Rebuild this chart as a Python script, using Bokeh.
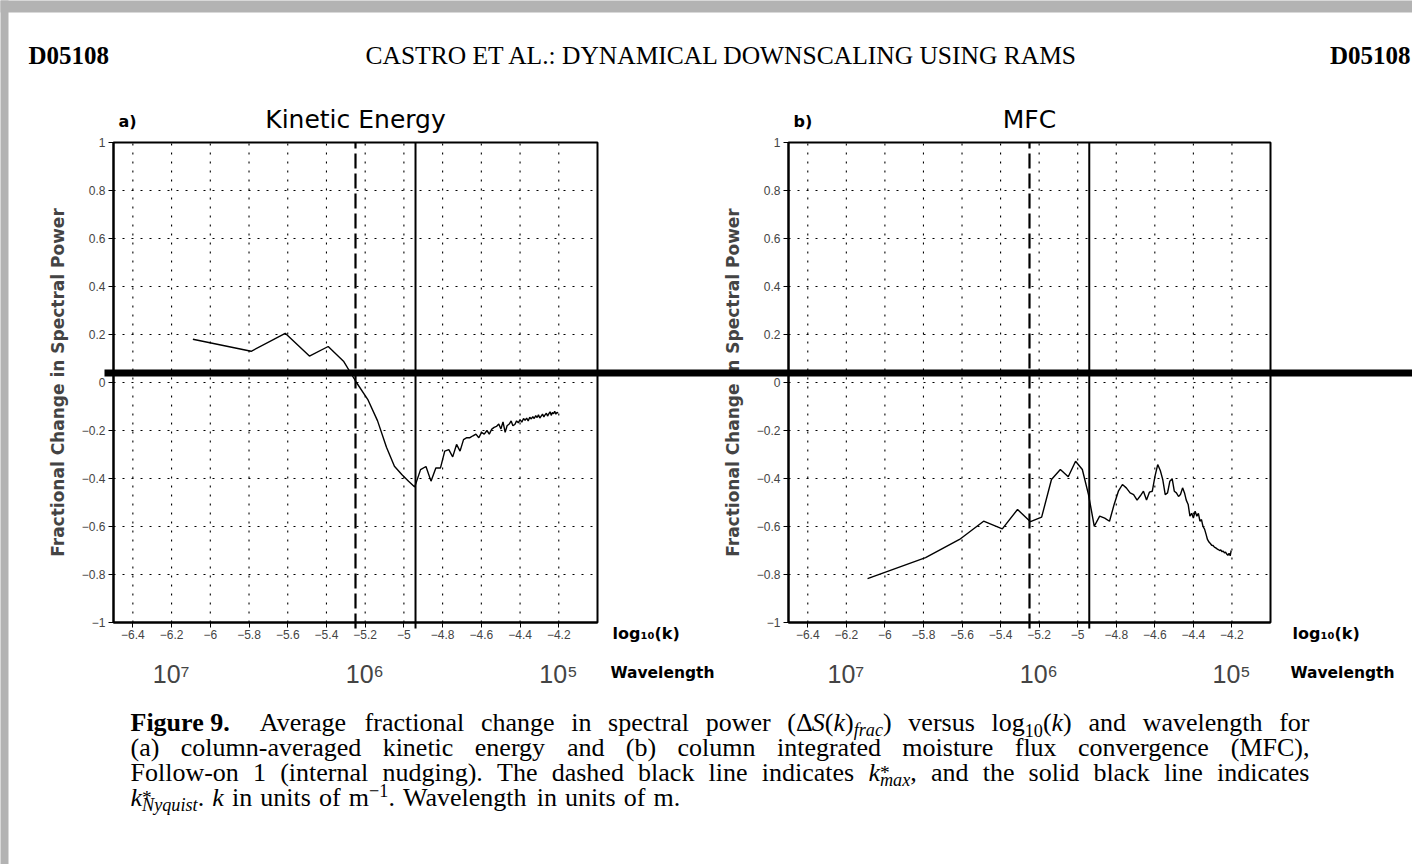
import numpy as np
from bokeh.plotting import figure
from bokeh.models import (Range1d, LinearAxis, FixedTicker, ColumnDataSource,
                          CustomJSTickFormatter)
from bokeh.embed import file_html
from bokeh.resources import INLINE
from bokeh.core.properties import value

# ---------------- data ----------------
log10_k = [-6.090, -5.789, -5.613, -5.488, -5.391, -5.312, -5.245, -5.187, -5.136, -5.090,
           -5.049, -5.011, -4.976, -4.944, -4.914, -4.886, -4.860, -4.835, -4.811, -4.789,
           -4.768, -4.748, -4.728, -4.710, -4.692, -4.675, -4.659, -4.643, -4.628, -4.613,
           -4.599, -4.585, -4.571, -4.559, -4.546, -4.534, -4.522, -4.510, -4.499, -4.488,
           -4.477, -4.467, -4.456, -4.446, -4.437, -4.427, -4.418, -4.409, -4.400, -4.391,
           -4.382, -4.374, -4.366, -4.358, -4.350, -4.342, -4.334, -4.327, -4.319, -4.312,
           -4.305, -4.298, -4.291, -4.284, -4.277, -4.271, -4.264, -4.258, -4.251, -4.245,
           -4.239, -4.233, -4.227, -4.221, -4.215, -4.209, -4.204]

ke_frac = [0.18, 0.13, 0.205, 0.11, 0.15, 0.089, 0.0, -0.07, -0.16, -0.27,
           -0.349, -0.383, -0.411, -0.435, -0.363, -0.35, -0.411, -0.356, -0.356, -0.286,
           -0.28, -0.31, -0.258, -0.286, -0.238, -0.23, -0.23, -0.222, -0.215, -0.23,
           -0.208, -0.215, -0.2, -0.215, -0.194, -0.187, -0.183, -0.173, -0.194, -0.164,
           -0.208, -0.18, -0.173, -0.16, -0.18, -0.175, -0.16, -0.168, -0.155, -0.165,
           -0.15, -0.158, -0.148, -0.16, -0.145, -0.152, -0.142, -0.15, -0.138, -0.146,
           -0.135, -0.148, -0.14, -0.132, -0.143, -0.135, -0.128, -0.14, -0.13, -0.122,
           -0.137, -0.125, -0.13, -0.12, -0.132, -0.124, -0.128]

mfc_frac = [-0.817, -0.73, -0.654, -0.578, -0.61, -0.529, -0.58, -0.561, -0.404, -0.3625,
            -0.393, -0.328, -0.3625, -0.467, -0.599, -0.557, -0.565, -0.578, -0.508, -0.453,
            -0.425, -0.439, -0.46, -0.467, -0.49, -0.472, -0.453, -0.49, -0.457, -0.453,
            -0.39, -0.342, -0.368, -0.404, -0.467, -0.46, -0.411, -0.401, -0.453, -0.46,
            -0.475, -0.467, -0.439, -0.46, -0.49, -0.508, -0.557, -0.545, -0.565, -0.536,
            -0.557, -0.545, -0.578, -0.571, -0.6, -0.611, -0.633, -0.654, -0.665, -0.671,
            -0.678, -0.679, -0.686, -0.689, -0.693, -0.696, -0.70, -0.698, -0.705, -0.703,
            -0.71, -0.707, -0.715, -0.72, -0.712, -0.722, -0.70]

k_max_log10 = -5.25
k_nyquist_log10 = -4.94

x_ticks = [-6.4, -6.2, -6.0, -5.8, -5.6, -5.4, -5.2, -5.0, -4.8, -4.6, -4.4, -4.2]
x_tick_labels = ["−6.4", "−6.2", "−6", "−5.8", "−5.6", "−5.4", "−5.2", "−5", "−4.8",
                 "−4.6", "−4.4", "−4.2"]
y_ticks = [-1.0, -0.8, -0.6, -0.4, -0.2, 0.0, 0.2, 0.4, 0.6, 0.8, 1.0]
y_tick_labels = ["−1", "−0.8", "−0.6", "−0.4", "−0.2", "0", "0.2", "0.4", "0.6", "0.8", "1"]
wavelengths_m = [1e7, 1e6, 1e5]
wavelength_labels = ["10⁷", "10⁶", "10⁵"]

panel_tags = ["a)", "b)"]
panel_titles = ["Kinetic Energy", "MFC"]
y_label = "Fractional Change in Spectral Power"
x_label = "log₁₀(k)"
w_label = "Wavelength"
header_texts = ["D05108", "CASTRO ET AL.: DYNAMICAL DOWNSCALING USING RAMS", "D05108"]

# ---------------- page layout (pixels) ----------------
PAGE_W, PAGE_H = 1412, 864
BOX_TOP, BOX_BOT = 142, 622
BOXES = {"a": (113, 597), "b": (788, 1270)}
X0, X1 = -6.5, -4.0
Y0, Y1 = -1.0, 1.0
GRAY = "#b3b3b3"
SANS = "DejaVu Sans"
TICK_FONT = "Liberation Sans"
SERIF = "Liberation Serif"


def xrange_for(box):
    s = (X1 - X0) / (box[1] - box[0])
    return Range1d(X0 - box[0] * s, X0 + (PAGE_W - box[0]) * s)


sy = (Y1 - Y0) / (BOX_BOT - BOX_TOP)
p = figure(width=PAGE_W, height=PAGE_H, x_range=xrange_for(BOXES["a"]),
           y_range=Range1d(Y0 - (PAGE_H - BOX_BOT) * sy, Y1 + BOX_TOP * sy),
           x_axis_type=None, y_axis_type=None, min_border=0, outline_line_color=None,
           background_fill_color="white", border_fill_color="white",
           output_backend="svg", toolbar_location=None)
p.extra_x_ranges = {"b": xrange_for(BOXES["b"]), "px": Range1d(0, PAGE_W)}
p.extra_y_ranges = {"py": Range1d(PAGE_H, 0)}
RN = {"a": "default", "b": "b"}


def tick_fmt(tvals, tlabs):
    return CustomJSTickFormatter(args=dict(tvals=list(tvals), tlabs=list(tlabs)), code="""
        for (let i = 0; i < tvals.length; i++) {
            if (Math.abs(tvals[i] - tick) < 1e-6) { return tlabs[i]; }
        }
        return "";
    """)


def page_text(xs, ys, texts, font, size, style="normal", align="left"):
    p.text(x=xs, y=ys, text=texts, x_range_name="px", y_range_name="py",
           text_font=value(font), text_font_size=size, text_font_style=style,
           text_align=align, text_baseline="middle", text_color="black")


# ---------------- page decorations ----------------
p.quad(left=[0, 0], right=[PAGE_W, 8], top=[0, 0], bottom=[12, PAGE_H], fill_color=GRAY,
       line_color=None, x_range_name="px", y_range_name="py", level="overlay")
page_text([28], [55], [header_texts[0]], SERIF, "25px", "bold")
page_text([365], [55], [header_texts[1]], SERIF, "25.5px", "normal")
page_text([1410], [55], [header_texts[2]], SERIF, "25px", "bold", align="right")

# ---------------- panels ----------------
wl_pos = [float(np.log10(2 * np.pi / w)) for w in wavelengths_m]
tick_px = 6 * sy  # the k* lines run through the tick row like major ticks
panels = [("a", ke_frac, panel_tags[0], panel_titles[0], 612),
          ("b", mfc_frac, panel_tags[1], panel_titles[1], 1292)]
for key, vals, tag, title, lab_x in panels:
    rn = RN[key]
    bl, br = BOXES[key]
    # dotted grid
    p.segment(x0=x_ticks, y0=[Y0] * len(x_ticks), x1=x_ticks, y1=[Y1] * len(x_ticks),
              x_range_name=rn, line_color="black", line_width=1.1, line_dash="2 7")
    gy = y_ticks[1:-1]
    p.segment(x0=[X0] * len(gy), y0=gy, x1=[X1] * len(gy), y1=gy, x_range_name=rn,
              line_color="black", line_width=1.1, line_dash="2 7")
    # plot box
    p.quad(left=[X0], right=[X1], bottom=[Y0], top=[Y1], fill_color=None,
           line_color="black", line_width=2, x_range_name=rn)
    # k*max (dashed) and k*Nyquist (solid)
    p.segment(x0=[k_max_log10], y0=[Y0 - tick_px], x1=[k_max_log10], y1=[Y1], x_range_name=rn,
              line_color="black", line_width=2.2, line_dash="15 5")
    p.segment(x0=[k_nyquist_log10], y0=[Y0 - tick_px], x1=[k_nyquist_log10], y1=[Y1],
              x_range_name=rn, line_color="black", line_width=2)
    # data
    p.line(log10_k, vals, x_range_name=rn, line_color="black", line_width=1.4)

    # axes
    xa = LinearAxis(x_range_name=rn, fixed_location=Y0, bounds=(X0, X1),
                    ticker=FixedTicker(ticks=x_ticks), formatter=tick_fmt(x_ticks, x_tick_labels),
                    major_tick_in=0, major_tick_out=5, minor_tick_line_color=None,
                    axis_line_width=2, major_label_text_font=TICK_FONT,
                    major_label_text_font_size="12px", major_label_standoff=2)
    p.add_layout(xa, "below")
    wa = LinearAxis(x_range_name=rn, fixed_location=Y0, bounds=(X0, X1),
                    ticker=FixedTicker(ticks=wl_pos), formatter=tick_fmt(wl_pos, wavelength_labels),
                    axis_line_color=None, major_tick_line_color=None, minor_tick_line_color=None,
                    major_tick_in=0, major_tick_out=0,
                    major_label_text_font=TICK_FONT, major_label_text_font_size="25px",
                    major_label_standoff=37)
    p.add_layout(wa, "below")
    ya = LinearAxis(x_range_name=rn, fixed_location=X0, bounds=(Y0, Y1),
                    ticker=FixedTicker(ticks=y_ticks), formatter=tick_fmt(y_ticks, y_tick_labels),
                    major_tick_in=0, major_tick_out=5, minor_tick_line_color=None,
                    axis_line_width=2, major_label_text_font=TICK_FONT,
                    major_label_text_font_size="12px", major_label_standoff=3,
                    axis_label=y_label, axis_label_text_font=SANS,
                    axis_label_text_font_style="bold", axis_label_text_font_size="17px",
                    axis_label_standoff=11)
    p.add_layout(ya, "left")

    # texts around the box
    page_text([bl + 5], [121], [tag], SANS, "16px", "bold")
    page_text([(bl + br) / 2], [119], [title], SANS, "25px", "normal", align="center")
    page_text([lab_x], [633], [x_label], SANS, "16px", "bold")
    page_text([lab_x - 2], [672], [w_label], SANS, "15.5px", "bold")

# heavy scan line across the page (drawn on top of everything)
p.quad(left=[104], right=[PAGE_W], top=[369], bottom=[376], fill_color="black",
       line_color=None, x_range_name="px", y_range_name="py", level="overlay")

# ---------------- caption (justified like the journal page) ----------------
W = {
    "normal": dict(zip(" !()*,-.0123456789:ABCDEFGHIJKLMNOPQRSTUVWXYZabcdefghijklmnopqrstuvwxyzΔ−",
                       [250, 333, 333, 333, 500, 250, 333, 250] + [500] * 10 + [278] +
                       [722, 667, 667, 722, 611, 556, 722, 722, 333, 389, 722, 611, 889, 722, 722,
                        556, 722, 667, 556, 611, 722, 722, 944, 722, 722, 611] +
                       [444, 500, 444, 500, 444, 333, 500, 500, 278, 278, 500, 278, 778, 500, 500,
                        500, 500, 333, 389, 278, 500, 500, 722, 500, 500, 444] + [612, 564])),
    "bold": {"F": 611, "i": 278, "g": 500, "u": 556, "r": 444, "e": 444, " ": 250, "9": 500, ".": 250},
    "italic": {"a": 500, "c": 444, "e": 444, "f": 278, "i": 278, "k": 444, "m": 722, "N": 667,
               "q": 500, "r": 389, "s": 389, "S": 500, "t": 278, "u": 500, "x": 444, "y": 444},
}
FS = 26.0
SUB, SUP, STAR = 0.30, -0.28, 0.0


def run_w(text, style, scale):
    return sum(W[style].get(c, 500) for c in text) / 1000.0 * FS * scale


def R(text, style="normal", scale=1.0, dy=0.0, adv=True):
    return (text, style, scale, dy, adv)


def word_w(runs):
    return sum(run_w(t, s, sc) for t, s, sc, d, a in runs if a)


def plain(s):
    return [[R(w)] for w in s.split()]


kit = R("k", "italic")
lines = [
    ([[R("Figure 9.  ", "bold")]] + plain("Average fractional change in spectral power") +
     [[R("(Δ"), R("S", "italic"), R("("), kit, R(")"), R("frac", "italic", 0.7, SUB), R(")")]] +
     plain("versus") + [[R("log"), R("10", "normal", 0.7, SUB), R("("), kit, R(")")]] +
     plain("and wavelength for"), True),
    (plain("(a) column-averaged kinetic energy and (b) column integrated moisture flux convergence (MFC),"), True),
    (plain("Follow-on 1 (internal nudging). The dashed black line indicates") +
     [[kit, R("*", "normal", 0.75, STAR, False), R("max", "italic", 0.7, SUB), R(",")]] +
     plain("and the solid black line indicates"), True),
    ([[kit, R("*", "normal", 0.75, STAR, False), R("Nyquist", "italic", 0.7, SUB), R(".")], [kit]] +
     plain("in units of") + [[R("m"), R("−1", "normal", 0.7, SUP), R(".")]] +
     plain("Wavelength in units of m."), False),
]
CAP_L, CAP_R = 130, 1309
middles = [722, 747, 772, 797]
cx, cy, ct, cs, cz = [], [], [], [], []
for (words, justify), mid in zip(lines, middles):
    widths = [word_w(wd) for wd in words]
    if justify:
        gap = (CAP_R - CAP_L - sum(widths)) / (len(words) - 1)
    else:
        gap = W["normal"][" "] / 1000.0 * FS * 1.25
    x = CAP_L
    for wd, ww in zip(words, widths):
        xx = x
        for t, s, sc, d, a in wd:
            cx.append(xx)
            cy.append(mid + d * FS)
            ct.append(t)
            cs.append(s)
            cz.append(f"{FS * sc:.1f}px")
            if a:
                xx += run_w(t, s, sc)
        x += ww + gap

cap_src = ColumnDataSource(dict(x=cx, y=cy, text=ct, style=cs, size=cz))
p.text(x="x", y="y", text="text", source=cap_src, x_range_name="px", y_range_name="py",
       text_font=value(SERIF), text_font_size="size", text_font_style="style",
       text_baseline="middle", text_color="black")

open("out.html", "w").write(file_html(p, INLINE))
